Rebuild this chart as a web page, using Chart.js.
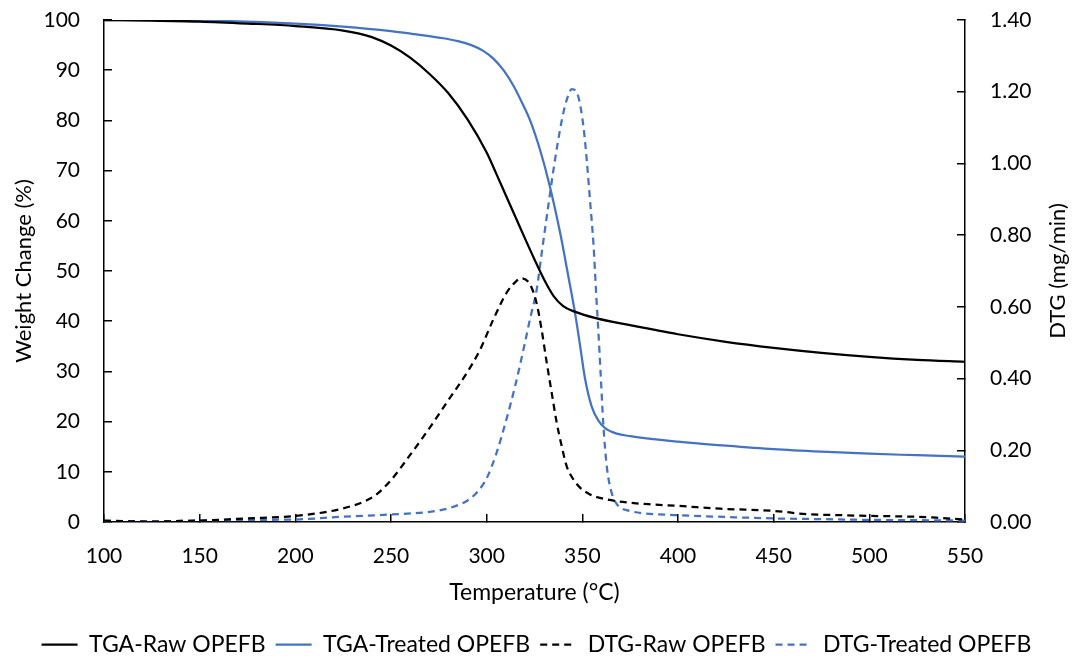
<!DOCTYPE html>
<html>
<head>
<meta charset="utf-8">
<title>TGA / DTG of OPEFB</title>
<script src="https://cdn.jsdelivr.net/npm/chart.js@4.4.0/dist/chart.umd.min.js"></script>
<style>
  html, body { margin: 0; padding: 0; background: #fff; }
</style>
</head>
<body>
<canvas id="tgaChart" width="1073" height="661"></canvas>
<script>

// weight loss, raw fibre (%)
const rawTgaTemp = [100, 125, 150, 175, 200, 225, 240, 250, 260, 270, 280, 290, 300, 305, 310, 315, 320, 325, 330, 335, 340, 346, 357, 375, 400, 425, 450, 475, 500, 525, 550];
const rawTga     = [100, 99.9, 99.7, 99.3, 98.8, 97.9, 96.6, 94.9, 92.5, 89.3, 85.4, 80.2, 73.6, 69.4, 65.1, 60.8, 56.5, 52.3, 48.3, 45.0, 43.0, 41.9, 40.6, 39.2, 37.4, 35.9, 34.7, 33.7, 32.9, 32.3, 31.9];

// weight loss, treated fibre (%)
const treatedTgaTemp = [100, 150, 200, 225, 250, 262, 275, 285, 292, 298, 303.5, 309, 314, 318, 322.7, 328, 333, 338.4, 342.7, 346.2, 348.8, 351.4, 354.9, 358.4, 361.9, 368, 375, 400, 425, 450, 475, 500, 525, 550];
const treatedTga     = [100, 99.9, 99.3, 98.7, 97.8, 97.2, 96.5, 95.8, 95.0, 93.9, 92.3, 89.9, 86.9, 83.9, 80.0, 74.0, 66.9, 57.6, 48.9, 41.6, 35.2, 28.6, 23.0, 20.2, 18.7, 17.6, 17.1, 16.0, 15.2, 14.5, 14.0, 13.6, 13.3, 13.0];

// derivative, raw fibre (mg/min)
const rawDtgTemp = [100, 112, 125, 140, 150, 175, 200, 215, 225, 235, 242, 250, 260, 270, 280, 290, 296.5, 303.5, 310.5, 315.5, 318, 322.6, 326, 328.7, 331.4, 334, 336.6, 339.2, 341.8, 345.3, 348.8, 354, 361, 371, 386, 400, 422, 450, 467, 485, 500, 522, 535, 550];
const rawDtg     = [0.004, 0.002, 0.001, 0.003, 0.004, 0.010, 0.017, 0.027, 0.038, 0.055, 0.075, 0.117, 0.187, 0.261, 0.340, 0.419, 0.480, 0.565, 0.640, 0.672, 0.680, 0.663, 0.612, 0.537, 0.444, 0.360, 0.277, 0.212, 0.156, 0.119, 0.096, 0.077, 0.065, 0.056, 0.049, 0.045, 0.037, 0.031, 0.022, 0.019, 0.017, 0.015, 0.012, 0.007];

// derivative, treated fibre (mg/min)
const treatedDtgTemp = [100, 125, 150, 175, 200, 225, 250, 275, 285, 290, 295, 300, 305, 310, 315, 320, 322.6, 326.2, 328.5, 331.4, 334.9, 339.3, 342, 344.5, 347.9, 350.6, 352.3, 354, 355.8, 357.2, 358.4, 359.6, 361, 362.8, 365.4, 368, 373.2, 400, 425, 450, 475, 500, 525, 550];
const treatedDtg     = [0.003, 0.002, 0.004, 0.006, 0.007, 0.015, 0.021, 0.032, 0.047, 0.060, 0.083, 0.122, 0.190, 0.280, 0.382, 0.500, 0.565, 0.650, 0.740, 0.851, 0.982, 1.121, 1.180, 1.207, 1.186, 1.102, 1.010, 0.898, 0.777, 0.640, 0.530, 0.410, 0.270, 0.154, 0.080, 0.050, 0.033, 0.019, 0.014, 0.010, 0.008, 0.006, 0.005, 0.004];

const tempTicks   = [100, 150, 200, 250, 300, 350, 400, 450, 500, 550];
const weightTicks = [0, 10, 20, 30, 40, 50, 60, 70, 80, 90, 100];
const dtgTicks    = [0, 0.2, 0.4, 0.6, 0.8, 1.0, 1.2, 1.4];

const seriesNames = ['TGA-Raw OPEFB', 'TGA-Treated OPEFB', 'DTG-Raw OPEFB', 'DTG-Treated OPEFB'];

const BLUE = '#4472C4';
const FONT = 'Lato';

function toPoints(xs, ys) {
  return xs.map((x, i) => ({ x: x, y: ys[i] }));
}

function lineSet(label, pts, color, axis, dashed) {
  return {
    label: label,
    data: pts,
    yAxisID: axis,
    borderColor: color,
    backgroundColor: color,
    borderWidth: 2.25,
    borderDash: dashed ? [7, 5] : [],
    pointRadius: 0,
    fill: false,
    cubicInterpolationMode: 'monotone'
  };
}

// the right axis title reads bottom-to-top, so it is drawn here
const rightTitle = {
  id: 'rightTitle',
  afterDraw(chart) {
    const ctx = chart.ctx;
    const s = chart.scales.y1;
    const area = chart.chartArea;
    ctx.save();
    ctx.font = '22px ' + FONT;
    ctx.fillStyle = '#000';
    ctx.textAlign = 'center';
    ctx.textBaseline = 'middle';
    ctx.translate(s.right - 15, (area.top + area.bottom) / 2);
    ctx.rotate(-Math.PI / 2);
    ctx.fillText('DTG (mg/min)', 0, 0);
    ctx.restore();
  }
};

// fixed axis sizes; the big label padding must not push the plot down
function fixWidth(w) {
  return s => { s.width = w; s.paddingTop = 12; s.paddingBottom = 12; };
}

const axisGrid = { display: true, drawOnChartArea: false, drawTicks: true, tickLength: -8, color: '#000', lineWidth: 1.5 };
const axisBorder = { display: true, color: '#000', width: 1.5 };

const ctx = document.getElementById('tgaChart').getContext('2d');
const chart = new Chart(ctx, {
  type: 'line',
  data: {
    datasets: [
      lineSet(seriesNames[0], toPoints(rawTgaTemp, rawTga), '#000', 'y', false),
      lineSet(seriesNames[1], toPoints(treatedTgaTemp, treatedTga), BLUE, 'y', false),
      lineSet(seriesNames[2], toPoints(rawDtgTemp, rawDtg), '#000', 'y1', true),
      lineSet(seriesNames[3], toPoints(treatedDtgTemp, treatedDtg), BLUE, 'y1', true)
    ]
  },
  options: {
    responsive: false,
    animation: false,
    events: [],
    layout: { padding: { top: 20, left: 0, right: 0, bottom: -5 } },
    scales: {
      x: {
        type: 'linear',
        min: 100,
        max: 550,
        afterBuildTicks: s => { s.ticks = tempTicks.map(v => ({ value: v })); },
        afterFit: s => { s.height = 101; },
        grid: axisGrid,
        border: axisBorder,
        ticks: { color: '#000', padding: 30, font: { family: FONT, size: 21 }, maxRotation: 0 },
        title: { display: true, text: 'Temperature (°C)', color: '#000', font: { family: FONT, size: 23 }, padding: { top: 0, bottom: 17 } }
      },
      y: {
        position: 'left',
        min: 0,
        max: 100,
        afterBuildTicks: s => { s.ticks = weightTicks.map(v => ({ value: v })); },
        afterFit: fixWidth(104),
        grid: axisGrid,
        border: axisBorder,
        ticks: { color: '#000', padding: 32, font: { family: FONT, size: 21 } },
        title: { display: true, text: 'Weight Change (%)', color: '#000', font: { family: FONT, size: 22 }, padding: { top: 11, bottom: 0 } }
      },
      y1: {
        position: 'right',
        min: 0,
        max: 1.4,
        afterBuildTicks: s => { s.ticks = dtgTicks.map(v => ({ value: v })); },
        afterFit: fixWidth(108),
        grid: axisGrid,
        border: axisBorder,
        ticks: { color: '#000', padding: 33, font: { family: FONT, size: 21 }, callback: v => v.toFixed(2) }
      }
    },
    plugins: {
      tooltip: { enabled: false },
      legend: {
        position: 'bottom',
        labels: {
          color: '#000',
          font: { family: FONT, size: 23 },
          usePointStyle: true,
          pointStyle: 'line',
          pointStyleWidth: 36,
          padding: 10,
          generateLabels: chart => Chart.defaults.plugins.legend.labels.generateLabels(chart).map(item => {
            const ds = chart.data.datasets[item.datasetIndex];
            item.lineDash = ds.borderDash;
            item.lineWidth = ds.borderWidth;
            item.strokeStyle = ds.borderColor;
            return item;
          })
        }
      }
    }
  },
  plugins: [rightTitle]
});
</script>
</body>
</html>
